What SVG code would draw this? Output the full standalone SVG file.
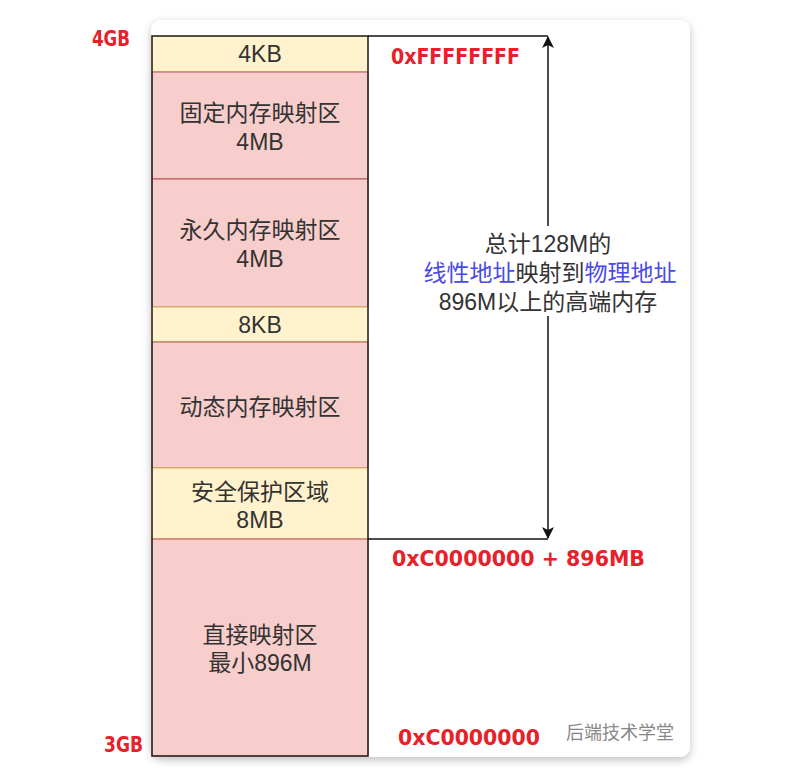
<svg xmlns="http://www.w3.org/2000/svg" width="803" height="781" viewBox="0 0 803 781">
<defs>
<filter id="sh" x="-10%" y="-10%" width="120%" height="120%">
<feDropShadow dx="0" dy="3" stdDeviation="4" flood-color="#000" flood-opacity="0.25"/>
</filter>
<marker id="ah" viewBox="0 0 12 12" refX="11" refY="6" markerWidth="12" markerHeight="12" orient="auto-start-reverse" markerUnits="userSpaceOnUse">
<path d="M0,0 L12,6 L0,12 L3,6 Z" fill="#111"/>
</marker>
<style>
.pink{fill:#f8cecc;stroke:#b85450;stroke-width:1}
.yel{fill:#fff2cc;stroke:#d6b656;stroke-width:1}
.t{font-family:"Liberation Sans","Noto Sans CJK SC",sans-serif;font-size:23px;fill:#333;text-anchor:middle}
.r{font-family:"DejaVu Sans","Noto Sans CJK SC",sans-serif;font-weight:bold;font-size:21px;fill:#e8202a}
.b{fill:#4a4ae8}
</style>
</defs>
<rect x="0" y="0" width="803" height="781" fill="#fff"/>
<rect x="151" y="20" width="539" height="737" rx="10" fill="#fff" filter="url(#sh)"/>
<g id="n-4kb"><rect class="yel" x="152" y="36" width="216" height="36"/><text class="t" x="260" y="62">4KB</text></g>
<g id="n-fixmap"><rect class="pink" x="152" y="72" width="216" height="107"/><text class="t" x="260" y="121">固定内存映射区</text><text class="t" x="260" y="150">4MB</text></g>
<g id="n-pkmap"><rect class="pink" x="152" y="179" width="216" height="128"/><text class="t" x="260" y="238">永久内存映射区</text><text class="t" x="260" y="267">4MB</text></g>
<g id="n-8kb"><rect class="yel" x="152" y="307" width="216" height="35"/><text class="t" x="260" y="333">8KB</text></g>
<g id="n-vmalloc"><rect class="pink" x="152" y="342" width="216" height="126"/><text class="t" x="260" y="415">动态内存映射区</text></g>
<g id="n-guard"><rect class="yel" x="152" y="468" width="216" height="71"/><text class="t" x="260" y="500">安全保护区域</text><text class="t" x="260" y="528">8MB</text></g>
<g id="n-direct"><rect class="pink" x="152" y="539" width="216" height="217"/><text class="t" x="260" y="643">直接映射区</text><text class="t" x="260" y="671">最小896M</text></g>
<rect x="152" y="36" width="216" height="720" fill="none" stroke="#222" stroke-width="1.5"/>
<g id="connectors" fill="none" stroke="#111" stroke-width="1.5">
<path d="M368,36 H548"/>
<path d="M368,539 H548"/>
<path d="M548,226 V37" marker-end="url(#ah)"/>
<path d="M548,316 V538" marker-end="url(#ah)"/>
</g>
<g id="label-center">
<text class="t" x="548" y="252">总计128M的</text>
<text class="t" x="550" y="281"><tspan class="b">线性地址</tspan>映射到<tspan class="b">物理地址</tspan></text>
<text class="t" x="548" y="310">896M以上的高端内存</text>
</g>
<text class="r" x="92" y="46" font-size="19" textLength="38" lengthAdjust="spacingAndGlyphs">4GB</text>
<text class="r" x="104" y="752" font-size="19" textLength="39" lengthAdjust="spacingAndGlyphs">3GB</text>
<text class="r" x="391" y="64" font-size="22" textLength="129" lengthAdjust="spacingAndGlyphs">0xFFFFFFFF</text>
<text class="r" x="392" y="566" textLength="253" lengthAdjust="spacingAndGlyphs">0xC0000000 + 896MB</text>
<text class="r" x="398" y="745" textLength="142" lengthAdjust="spacingAndGlyphs">0xC0000000</text>
<text x="566" y="739" font-family="'Noto Sans CJK SC',sans-serif" font-size="18" fill="#888">后端技术学堂</text>
</svg>
